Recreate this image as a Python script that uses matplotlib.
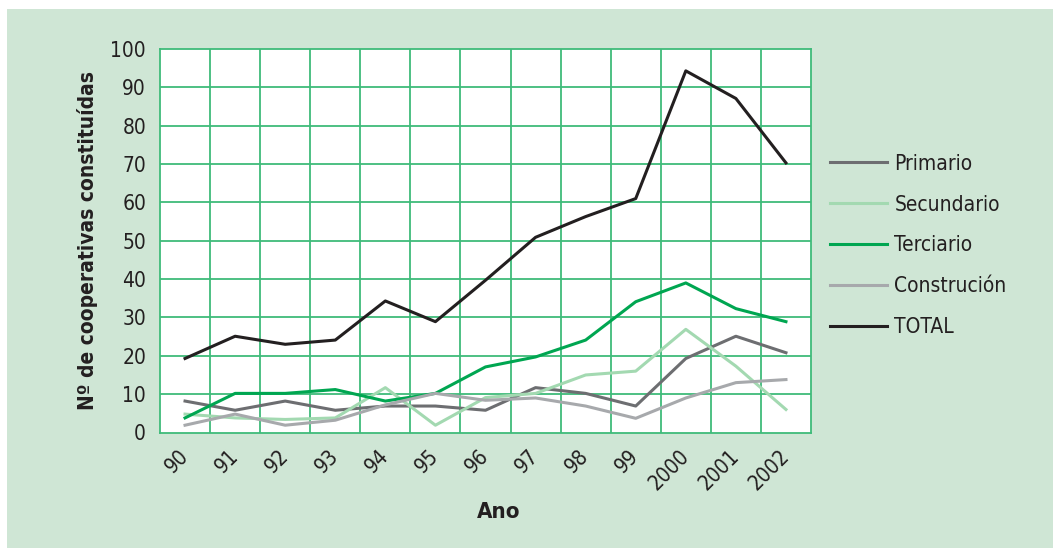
import matplotlib.pyplot as plt
from matplotlib.patches import Rectangle

plt.rcParams['font.family'] = ['DejaVu Sans']
plt.rcParams['font.stretch'] = 'condensed'

anos = ['90', '91', '92', '93', '94', '95', '96', '97', '98', '99', '2000', '2001', '2002']
primario = [8.2, 5.8, 8.2, 5.8, 6.9, 6.9, 5.8, 11.7, 10.2, 6.9, 19.3, 25.1, 20.8]
secundario = [4.8, 3.8, 3.4, 3.8, 11.7, 1.9, 9.1, 10.2, 15.0, 16.0, 26.9, 17.3, 6.0]
terciario = [3.8, 10.2, 10.2, 11.2, 8.2, 10.2, 17.1, 19.7, 24.1, 34.1, 39.0, 32.3, 28.9]
construcion = [1.9, 4.8, 1.9, 3.2, 7.2, 10.2, 8.4, 9.0, 6.9, 3.7, 9.0, 13.0, 13.8]
total = [19.3, 25.1, 23.0, 24.1, 34.3, 28.9, 39.7, 50.9, 56.3, 61.0, 94.3, 87.1, 70.3]

series = [
    ('Primario', primario, '#6d6e71'),
    ('Secundario', secundario, '#a3d9b1'),
    ('Terciario', terciario, '#00a651'),
    ('Construción', construcion, '#a7a9ac'),
    ('TOTAL', total, '#231f20'),
]

bg = '#cfe6d5'
grid_col = '#3fbb7a'

fig = plt.figure(figsize=(10.53, 5.48), dpi=100)
fig.patches.append(Rectangle((7 / 1053, 0), 1, 1 - 9 / 548, transform=fig.transFigure,
                             facecolor=bg, edgecolor='none', zorder=-1))

ax = fig.add_axes([160 / 1053, 1 - 432.5 / 548, 651 / 1053, 383.5 / 548])
ax.set_facecolor('white')

x = list(range(len(anos)))
for nome, vals, cor in series:
    ax.plot(x, vals, color=cor, lw=2.2, label=nome, zorder=3)

ax.set_xlim(-0.5, len(anos) - 0.5)
ax.set_ylim(0, 100)
ax.set_yticks(range(0, 101, 10))
ax.set_xticks(x)
ax.set_xticklabels(anos, rotation=45, ha='right', va='center', rotation_mode='anchor', fontsize=15)
ax.tick_params(axis='y', labelsize=15, length=0, pad=10, colors='#231f20')
ax.tick_params(axis='x', length=0, pad=15, colors='#231f20')

for v in range(10, 100, 10):
    ax.axhline(v, color=grid_col, lw=1.3, zorder=1)
for i in range(1, len(anos)):
    ax.axvline(i - 0.5, color=grid_col, lw=1.3, zorder=1)
for s in ax.spines.values():
    s.set_color(grid_col)
    s.set_linewidth(1.3)

fig.text(499 / 1053, 1 - 512 / 548, 'Ano', ha='center', va='center', fontsize=16,
         fontweight='bold', color='#231f20')
fig.text(88 / 1053, 1 - 241 / 548, 'Nº de cooperativas constituídas', ha='center', va='center',
         rotation=90, fontsize=15, fontweight='bold', color='#231f20')

leg = ax.legend(loc='center left', bbox_to_anchor=(1.0, 0.488), frameon=False, fontsize=15,
                handlelength=2.75, handletextpad=0.35, labelspacing=1.0)
for t in leg.get_texts():
    t.set_color('#231f20')

fig.savefig('out.png', dpi=100, facecolor='white')
